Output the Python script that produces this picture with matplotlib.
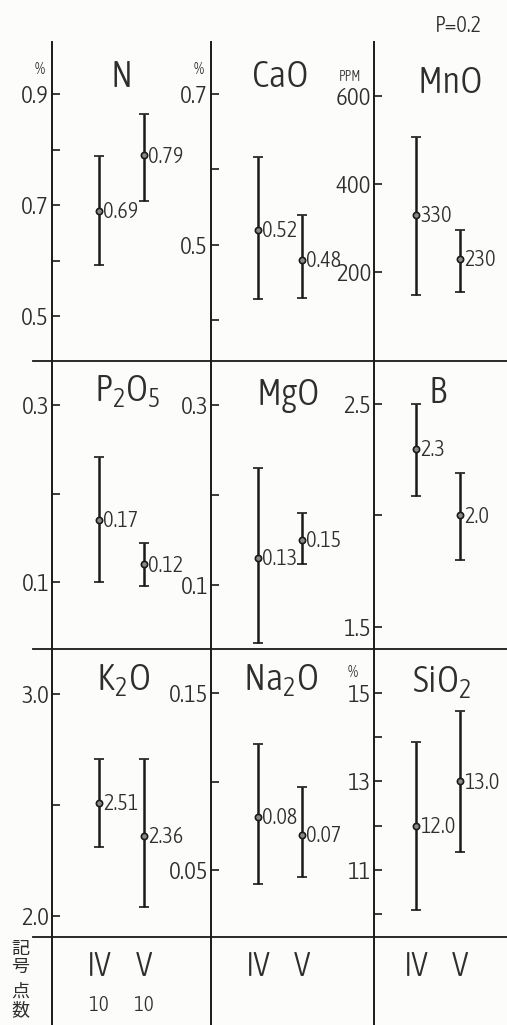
import matplotlib
matplotlib.use('Agg')
import matplotlib.pyplot as plt
from matplotlib import font_manager
from matplotlib.lines import Line2D
import matplotlib.transforms as mtransforms

# ---- data ----
titles = ['N', 'CaO', 'MnO', 'P$_2$O$_5$', 'MgO', 'B', 'K$_2$O', 'Na$_2$O', 'SiO$_2$']
units = ['%', '%', 'PPM', '', '', '', '', '', '%']
groups = ['IV', 'V']
counts = [10, 10]

mean_iv = [0.69, 0.52, 330, 0.17, 0.13, 2.3, 2.51, 0.08, 12.0]
mean_v = [0.79, 0.48, 230, 0.12, 0.15, 2.0, 2.36, 0.07, 13.0]
label_iv = ['0.69', '0.52', '330', '0.17', '0.13', '2.3', '2.51', '0.08', '12.0']
label_v = ['0.79', '0.48', '230', '0.12', '0.15', '2.0', '2.36', '0.07', '13.0']

low_iv = [0.592, 0.428, 148, 0.100, 0.036, 2.087, 2.311, 0.042, 10.09]
high_iv = [0.788, 0.617, 507, 0.241, 0.230, 2.500, 2.707, 0.121, 13.89]
low_v = [0.707, 0.430, 155, 0.095, 0.123, 1.800, 2.040, 0.046, 11.41]
high_v = [0.864, 0.540, 295, 0.144, 0.180, 2.190, 2.707, 0.097, 14.60]

ylims = [(0.419, 0.994), (0.346, 0.769), (-2, 723),
         (0.0243, 0.3486), (0.0289, 0.348), (1.401, 2.688),
         (1.905, 3.203), (0.0121, 0.1749), (9.486, 15.99)]
major_ticks = [[0.5, 0.7, 0.9], [0.5, 0.7], [200, 400, 600],
               [0.1, 0.3], [0.1, 0.3], [1.5, 2.5],
               [2.0, 3.0], [0.05, 0.15], [11, 13, 15]]
major_labels = [['0.5', '0.7', '0.9'], ['0.5', '0.7'], ['200', '400', '600'],
                ['0.1', '0.3'], ['0.1', '0.3'], ['1.5', '2.5'],
                ['2.0', '3.0'], ['0.05', '0.15'], ['11', '13', '15']]
minor_ticks = [[0.6, 0.8], [0.4, 0.6], [],
               [0.2], [0.2], [2.0],
               [2.5], [0.10], [10, 12, 14]]

# ---- fonts: the scan uses a thin, very narrow face -> pick the narrowest installed ----
STRETCH_RANK = {'ultra-condensed': 0, 'extra-condensed': 0, 'condensed': 1, 'semi-condensed': 2}


def _w(v):
    try:
        return int(v)
    except (TypeError, ValueError):
        return font_manager.weight_dict.get(v, 400)


cands = []
for f in font_manager.fontManager.ttflist:
    if f.style != 'normal':
        continue
    rank = STRETCH_RANK.get(str(f.stretch))
    if rank is None and ('Condensed' in f.name or 'Narrow' in f.name):
        rank = 1
    if rank is None:
        continue
    cands.append((rank, abs(_w(f.weight) - 320), f))
cands.sort(key=lambda t: (t[0], t[1]))
if cands:
    best = cands[0][2]
    FAM, STRETCH, WEIGHT = best.name, str(best.stretch), _w(best.weight)
else:
    FAM, STRETCH, WEIGHT = 'DejaVu Sans', 'normal', 400

plt.rcParams['font.family'] = [FAM, 'DejaVu Sans']
plt.rcParams['font.stretch'] = STRETCH
plt.rcParams['font.weight'] = WEIGHT
plt.rcParams['mathtext.fontset'] = 'custom'
plt.rcParams['mathtext.rm'] = f'{FAM}:stretch={STRETCH}:weight={WEIGHT}'
plt.rcParams['mathtext.default'] = 'regular'

INK = '#1a1a1a'
TXT = '#2e2e2e'

W, H = 507, 1025
fig = plt.figure(figsize=(W / 100, H / 100), dpi=100)
fig.patch.set_facecolor('#fcfcfa')

col_x = [52, 211, 374]
col_w = 150
col_off = [(47, 92), (47, 91), (42, 86)]   # pixel offset of IV / V from axis line
rows = [(42, 361), (362, 649), (649, 937)]
title_xy = [(122, 77), (280, 77), (450, 83),
            (127, 391), (288, 395), (437, 393),
            (123, 680), (281, 680), (442, 682)]
# unit label offset (px) from the axis line / top labelled tick
unit_off = {'%': (-12, 25), 'PPM': (-24, 19)}
unit_off_si = (-21, 20)


def col_xlim(c):
    o1, o2 = col_off[c]
    s = o2 - o1
    return (1 - o1 / s, 1 + (col_w - o1) / s)


def frac(px, py):
    return px / W, 1 - py / H


PT = 72 / 100   # points per pixel

for i in range(9):
    r, c = divmod(i, 3)
    top, bot = rows[r]
    ax = fig.add_axes([col_x[c] / W, 1 - bot / H, col_w / W, (bot - top) / H])
    ax.patch.set_alpha(0)
    for s in ['top', 'right', 'bottom']:
        ax.spines[s].set_visible(False)
    ax.spines['left'].set_color(INK)
    ax.spines['left'].set_linewidth(1.4)
    ax.set_xlim(*col_xlim(c))
    ax.set_ylim(*ylims[i])
    ax.set_xticks([])
    ax.set_yticks(major_ticks[i])
    ax.set_yticklabels(major_labels[i])
    ax.set_yticks(minor_ticks[i], minor=True)
    ax.tick_params(axis='y', which='both', direction='in', length=6, width=1.2,
                   color=INK, labelsize=18, labelcolor=TXT, pad=2)

    means = [mean_iv[i], mean_v[i]]
    lows = [low_iv[i], low_v[i]]
    highs = [high_iv[i], high_v[i]]
    labels = [label_iv[i], label_v[i]]
    for k, x in enumerate([1, 2]):
        ax.errorbar([x], [means[k]],
                    yerr=[[means[k] - lows[k]], [highs[k] - means[k]]],
                    fmt='o', color=INK, ms=4.5, mfc='#8a8a8a', mec=INK, mew=1.2,
                    elinewidth=1.8, capsize=3.5, capthick=1.5)
        ax.annotate(labels[k], xy=(x, means[k]), xytext=(3, -1), textcoords='offset points',
                    ha='left', va='center', fontsize=16, color=TXT)

    if units[i]:
        dx, dy = unit_off_si if i == 8 else unit_off[units[i]]
        trans = mtransforms.blended_transform_factory(ax.transAxes, ax.transData)
        ax.annotate(units[i], xy=(0, major_ticks[i][-1]), xycoords=trans,
                    xytext=(dx * PT, dy * PT), textcoords='offset points',
                    ha='center', va='center', fontsize=10 if units[i] == 'PPM' else 12,
                    color=TXT)

    tx, ty = frac(*title_xy[i])
    fig.text(tx, ty, titles[i], ha='center', va='center', fontsize=27, color=TXT)

# bottom row: group symbols and point counts
for c in range(3):
    ax = fig.add_axes([col_x[c] / W, 0, col_w / W, (H - 937) / H])
    ax.patch.set_alpha(0)
    for s in ['top', 'right', 'bottom']:
        ax.spines[s].set_visible(False)
    ax.spines['left'].set_color(INK)
    ax.spines['left'].set_linewidth(1.4)
    ax.set_xlim(*col_xlim(c))
    ax.set_ylim(0, 1)
    ax.set_xticks([])
    ax.set_yticks([])
    for k, g in enumerate(groups):
        ax.text(k + 1, 0.66, g, ha='center', va='center', fontsize=24, color=TXT)
        if c == 0:
            ax.text(k + 1, 0.23, str(counts[k]), ha='center', va='center',
                    fontsize=15, color=TXT)

# row separators
for y in [361, 649, 937]:
    fig.add_artist(Line2D([33 / W, 1], [1 - y / H, 1 - y / H], color=INK, lw=1.3,
                          transform=fig.transFigure))

cjk = ['Noto Sans CJK JP', 'DejaVu Sans']
for txt, yc in [('記\n号', 958), ('点\n数', 1001)]:
    fig.text(*frac(20, yc), txt, ha='center', va='center', fontsize=13,
             family=cjk, weight='normal', stretch='normal', color=TXT, linespacing=1.05)

fig.text(*frac(458, 26), 'P=0.2', ha='center', va='center', fontsize=16, color=TXT)

fig.savefig('out.png', dpi=100, facecolor=fig.get_facecolor())
